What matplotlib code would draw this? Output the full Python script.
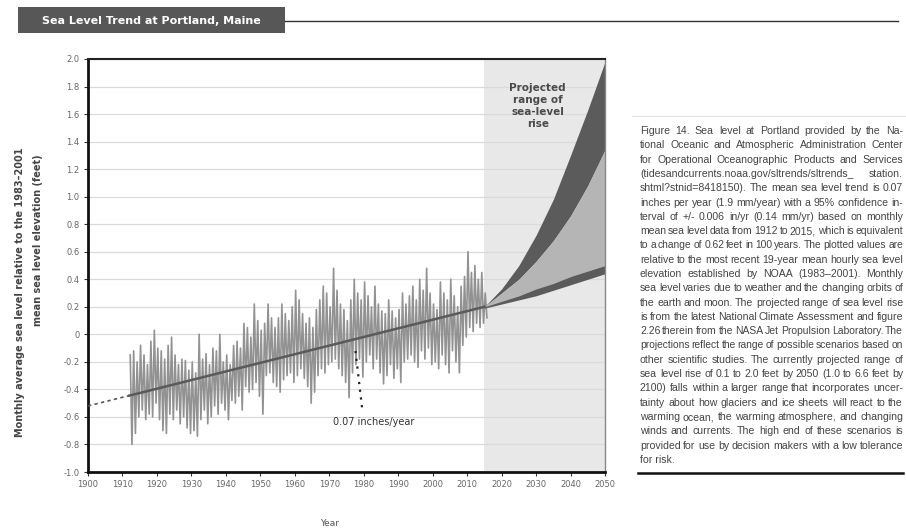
import matplotlib
matplotlib.use("Agg")
import matplotlib.pyplot as plt
from matplotlib.patches import Rectangle
from matplotlib.lines import Line2D
import numpy as np

# ---------------- data ----------------
years = list(range(1912, 2016))
annual_high = [
    -0.15, -0.12, -0.20, -0.08, -0.15, -0.22, -0.05, 0.03, -0.10, -0.12,   # 1912-1921
    -0.18, -0.08, -0.02, -0.15, -0.22, -0.18, -0.19, -0.26, -0.20, -0.28,  # 1922-1931
    0.00, -0.18, -0.14, -0.22, -0.10, -0.12, 0.00, -0.20, -0.15, -0.22,    # 1932-1941
    -0.08, -0.05, -0.10, 0.08, 0.05, -0.02, 0.22, 0.10, 0.03, 0.08,        # 1942-1951
    0.22, 0.12, 0.05, 0.12, 0.22, 0.15, 0.10, 0.20, 0.32, 0.25,            # 1952-1961
    0.15, 0.08, 0.12, 0.05, 0.18, 0.25, 0.35, 0.30, 0.20, 0.48,            # 1962-1971
    0.32, 0.22, 0.18, 0.10, 0.25, 0.40, 0.30, 0.25, 0.38, 0.28,            # 1972-1981
    0.20, 0.35, 0.22, 0.17, 0.15, 0.25, 0.17, 0.12, 0.18, 0.30,            # 1982-1991
    0.22, 0.28, 0.35, 0.25, 0.40, 0.32, 0.48, 0.30, 0.22, 0.18,            # 1992-2001
    0.38, 0.30, 0.25, 0.40, 0.28, 0.20, 0.35, 0.42, 0.60, 0.45,            # 2002-2011
    0.50, 0.40, 0.45, 0.30,                                                # 2012-2015
]
annual_low = [
    -0.80, -0.72, -0.60, -0.55, -0.62, -0.58, -0.60, -0.50, -0.62, -0.70,
    -0.72, -0.58, -0.62, -0.55, -0.65, -0.60, -0.68, -0.72, -0.70, -0.74,
    -0.62, -0.55, -0.65, -0.60, -0.52, -0.58, -0.50, -0.55, -0.62, -0.48,
    -0.50, -0.45, -0.55, -0.38, -0.42, -0.40, -0.35, -0.45, -0.58, -0.30,
    -0.28, -0.35, -0.38, -0.42, -0.33, -0.30, -0.28, -0.35, -0.30, -0.25,
    -0.32, -0.38, -0.50, -0.42, -0.30, -0.25, -0.28, -0.22, -0.20, -0.18,
    -0.25, -0.30, -0.35, -0.46, -0.28, -0.22, -0.18, -0.31, -0.20, -0.15,
    -0.25, -0.18, -0.28, -0.36, -0.30, -0.22, -0.32, -0.25, -0.35, -0.20,
    -0.18, -0.15, -0.20, -0.24, -0.12, -0.18, -0.10, -0.22, -0.20, -0.25,
    -0.15, -0.22, -0.28, -0.12, -0.20, -0.28, -0.08, -0.02, 0.05, 0.02,
    0.08, 0.05, 0.08, 0.12,
]

trend_years = [1900, 1912, 2015]
trend_vals = [-0.52, -0.445, 0.20]

proj_years = [2015, 2020, 2025, 2030, 2035, 2040, 2045, 2050]
proj_high = [0.20, 0.33, 0.50, 0.72, 0.98, 1.30, 1.63, 1.98]
proj_int_high = [0.20, 0.30, 0.40, 0.53, 0.68, 0.86, 1.08, 1.34]
proj_int_low = [0.20, 0.24, 0.28, 0.33, 0.37, 0.42, 0.46, 0.50]
proj_low = [0.19, 0.22, 0.25, 0.28, 0.32, 0.36, 0.40, 0.44]

xtick_vals = list(range(1900, 2051, 10))
xtick_labels = [str(v) for v in xtick_vals]
ytick_vals = [2.0, 1.8, 1.6, 1.4, 1.2, 1.0, 0.8, 0.6, 0.4, 0.2, 0.0,
              -0.2, -0.4, -0.6, -0.8, -1.0]
ytick_labels = ["2.0", "1.8", "1.6", "1.4", "1.2", "1.0", "0.8", "0.6", "0.4",
                "0.2", "0", "-0.2", "-0.4", "-0.6", "-0.8", "-1.0"]

title = "Sea Level Trend at Portland, Maine"
ylabel_1 = "Monthly average sea level relative to the 1983\u20132001"
ylabel_2 = "mean sea level elevation (feet)"
xlabel = "Year"
proj_label = "Projected\nrange of\nsea-level\nrise"
trend_label = "0.07 inches/year"

caption_lines = [
    "Figure 14. Sea level at Portland provided by the Na-",
    "tional Oceanic and Atmospheric Administration Center",
    "for Operational Oceanographic Products and Services",
    "(tidesandcurrents.noaa.gov/sltrends/sltrends_ station.",
    "shtml?stnid=8418150). The mean sea level trend is 0.07",
    "inches per year (1.9 mm/year) with a 95% confidence in-",
    "terval of +/- 0.006 in/yr (0.14 mm/yr) based on monthly",
    "mean sea level data from 1912 to 2015, which is equivalent",
    "to a change of 0.62 feet in 100 years. The plotted values are",
    "relative to the most recent 19-year mean hourly sea level",
    "elevation established by NOAA (1983\u20132001). Monthly",
    "sea level varies due to weather and the changing orbits of",
    "the earth and moon. The projected range of sea level rise",
    "is from the latest National Climate Assessment and figure",
    "2.26 therein from the NASA Jet Propulsion Laboratory. The",
    "projections reflect the range of possible scenarios based on",
    "other scientific studies. The currently projected range of",
    "sea level rise of 0.1 to 2.0 feet by 2050 (1.0 to 6.6 feet by",
    "2100) falls within a larger range that incorporates uncer-",
    "tainty about how glaciers and ice sheets will react to the",
    "warming ocean, the warming atmosphere, and changing",
    "winds and currents. The high end of these scenarios is",
    "provided for use by decision makers with a low tolerance",
    "for risk.",
]

# ---------------- figure ----------------
W, H = 906, 531
fig = plt.figure(figsize=(W / 100, H / 100), dpi=100)
fig.patch.set_facecolor("white")


def fx(px):
    return px / W


def fy(py):
    return 1 - py / H


ax = fig.add_axes([fx(88), fy(472), 517 / W, 413 / H])
ax.set_xlim(1900, 2050)
ax.set_ylim(-1.0, 2.0)

# projection background
ax.axvspan(proj_years[0], proj_years[-1], color="#e8e8e8", zorder=0, lw=0)

# horizontal grid
for v in ytick_vals:
    ax.axhline(v, color="#dadada", lw=0.9, zorder=0.5)

# observed monthly series (read as alternating high / low excursions)
t_obs, v_obs = [], []
for yr, hi, lo in zip(years, annual_high, annual_low):
    t_obs += [yr + 0.25, yr + 0.75]
    v_obs += [hi, lo]
ax.plot(t_obs, v_obs, color="#929292", lw=1.2, zorder=2)

# trend line
ax.plot(trend_years[:2], trend_vals[:2], color="#555555", lw=1.2,
        ls=(0, (2, 2)), zorder=3)
ax.plot(trend_years[1:], trend_vals[1:], color="#5a5a5a", lw=1.8, zorder=3)

# projections
ax.fill_between(proj_years, proj_int_high, proj_high, color="#5b5b5b", lw=0, zorder=2)
ax.fill_between(proj_years, proj_int_low, proj_int_high, color="#b5b5b5", lw=0, zorder=2)
ax.fill_between(proj_years, proj_low, proj_int_low, color="#5b5b5b", lw=0, zorder=2)

ax.text(2030.5, 1.66, proj_label, ha="center", va="center", fontsize=7.5,
        fontweight="bold", color="#4a4a4a", linespacing=1.25, zorder=4)

# trend annotation
ax.plot([1979.5, 1977.6], [-0.53, -0.12], color="#222222", lw=1.6,
        ls=(0, (1, 2.5)), zorder=4)
ax.text(1971, -0.64, trend_label, ha="left", va="center", fontsize=7,
        color="#333333", zorder=4)

# ticks / spines
ax.set_xticks(xtick_vals)
ax.set_xticklabels(xtick_labels)
ax.set_yticks(ytick_vals)
ax.set_yticklabels(ytick_labels)
ax.tick_params(axis="both", labelsize=6, labelcolor="#666666", color="#333333",
               length=3, width=0.8, pad=3)
for side in ["left", "bottom"]:
    ax.spines[side].set_color("#111111")
    ax.spines[side].set_linewidth(2)
ax.spines["top"].set_color("#222222")
ax.spines["top"].set_linewidth(1.5)
ax.spines["right"].set_color("#888888")
ax.spines["right"].set_linewidth(1)

# axis titles
fig.text(fx(20), fy(292), ylabel_1, rotation=90, ha="center", va="center",
         fontsize=7, fontweight="bold", color="#444444")
fig.text(fx(38), fy(240), ylabel_2, rotation=90, ha="center", va="center",
         fontsize=7, fontweight="bold", color="#444444")
fig.text(fx(330), fy(523), xlabel, ha="center", va="center", fontsize=6.5,
         color="#555555")

# title box and rule
fig.patches.append(Rectangle((fx(18), fy(33)), (285 - 18) / W, 26 / H,
                             transform=fig.transFigure, facecolor="#575757",
                             edgecolor="none"))
fig.text(fx(151), fy(20.5), title, ha="center", va="center", fontsize=8,
         fontweight="bold", color="white")
fig.add_artist(Line2D([fx(285), fx(898)], [fy(21), fy(21)], color="#333333",
                      lw=1.0, transform=fig.transFigure))

# caption rules
fig.add_artist(Line2D([fx(632), fx(906)], [fy(116), fy(116)], color="#e2e2e2",
                      lw=0.8, transform=fig.transFigure))
fig.add_artist(Line2D([fx(638), fx(903)], [fy(473), fy(473)], color="#111111",
                      lw=1.8, transform=fig.transFigure))

# justified caption
renderer = fig.canvas.get_renderer()
base_size = 7.6
cap_kw = dict(color="#444444", family=["Liberation Sans Narrow", "Liberation Sans"],
              va="center", ha="left")
x0, x1 = 640, 903
for i, line in enumerate(caption_lines):
    ypx = 131 + i * 14.3
    words = line.split()
    if i == len(caption_lines) - 1 or len(words) == 1:
        fig.text(fx(x0), fy(ypx), line, fontsize=base_size, **cap_kw)
        continue
    size = base_size
    texts = [fig.text(0, 0, w, fontsize=size, **cap_kw) for w in words]
    widths = [t.get_window_extent(renderer).width for t in texts]
    min_gap = 2.0
    need = sum(widths) + min_gap * (len(words) - 1)
    if need > (x1 - x0):
        scale = (x1 - x0 - min_gap * (len(words) - 1)) / sum(widths)
        size = base_size * scale
        for t in texts:
            t.set_fontsize(size)
        widths = [t.get_window_extent(renderer).width for t in texts]
    gap = (x1 - x0 - sum(widths)) / (len(words) - 1)
    x = x0
    for t, w in zip(texts, widths):
        t.set_position((fx(x), fy(ypx)))
        x += w + gap

fig.savefig("out.png", dpi=100, facecolor="white")
